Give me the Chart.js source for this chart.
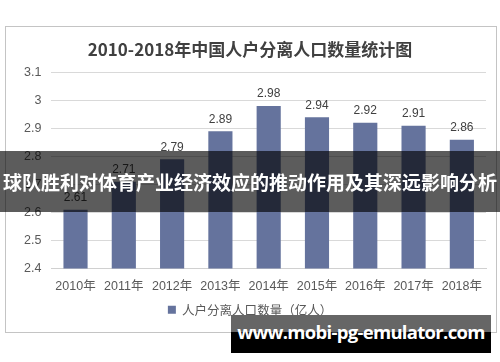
<!DOCTYPE html>
<html>
<head>
    <title>2010-2018年中国人户分离人口数量统计图</title>
    <script src="https://cdn.jsdelivr.net/npm/chart.js"></script>
    <style>
        body { margin: 0; background: #fff; }
        #wrap { position: relative; width: 500px; height: 362px; overflow: hidden; }
        #frame { position: absolute; left: 5px; top: 26px; width: 490px; height: 305px; border: 1px solid #c4c4c4; }
        #chart { position: absolute; left: 0; top: 0; }
        #band {
            position: absolute; left: 0; top: 151px; width: 500px; height: 61px;
            background: rgba(0, 0, 0, 0.64); color: #fff;
            font: bold 19px "Noto Sans CJK SC", sans-serif;
            line-height: 61px; text-align: center; white-space: nowrap;
        }
        #mark { position: absolute; left: 231px; top: 315px; width: 260px; height: 38px; background: #000; }
        #mark .top { position: absolute; left: 0; top: 0; width: 260px; height: 17px; background: #666; }
        #mark .txt {
            position: absolute; left: 0; top: 4px; width: 260px; height: 34px; line-height: 34px;
            text-align: center; color: #fff; font: bold 18.5px "Open Sans", "DejaVu Sans", sans-serif;
            letter-spacing: -0.7px; white-space: nowrap;
        }
    </style>
</head>
<body>
<div id="wrap">
    <div id="frame"></div>
    <canvas id="chart" width="500" height="362"></canvas>
    <div id="band">球队胜利对体育产业经济效应的推动作用及其深远影响分析</div>
    <div id="mark"><div class="top"></div><div class="txt">www.mobi-pg-emulator.com</div></div>
</div>
<script>
    // chart data
    const years = ["2010年", "2011年", "2012年", "2013年", "2014年", "2015年", "2016年", "2017年", "2018年"];
    const population = [2.61, 2.71, 2.79, 2.89, 2.98, 2.94, 2.92, 2.91, 2.86];
    const seriesName = "人户分离人口数量（亿人）";
    const chartTitle = "2010-2018年中国人户分离人口数量统计图";

    const barColor = "#65739d";
    const fontFamily = "'Liberation Sans', 'Noto Sans CJK SC', sans-serif";

    // value labels above each bar
    const valueLabels = {
        id: "valueLabels",
        afterDatasetsDraw(chart) {
            const ctx = chart.ctx;
            const meta = chart.getDatasetMeta(0);
            ctx.save();
            ctx.fillStyle = "#404040";
            ctx.font = "12px " + fontFamily;
            ctx.textAlign = "center";
            ctx.textBaseline = "bottom";
            meta.data.forEach((bar, i) => {
                ctx.fillText(population[i].toFixed(2), bar.x, bar.y - 6);
            });
            ctx.restore();
        }
    };

    new Chart(document.getElementById("chart"), {
        type: "bar",
        data: {
            labels: years,
            datasets: [{
                label: seriesName,
                data: population,
                backgroundColor: barColor,
                barPercentage: 0.5,
                categoryPercentage: 1
            }]
        },
        options: {
            responsive: false,
            animation: false,
            layout: { padding: { left: 14, right: 14, top: 39, bottom: 36 } },
            plugins: {
                title: {
                    display: true,
                    text: chartTitle,
                    color: "#404040",
                    font: { size: 17, weight: "bold", family: "'Noto Sans CJK SC', sans-serif" },
                    padding: { top: 0, bottom: 13 }
                },
                legend: {
                    position: "bottom",
                    labels: {
                        boxWidth: 8, boxHeight: 8, color: "#595959",
                        font: { size: 12.5, family: "'Noto Sans CJK SC', sans-serif" },
                        padding: 6
                    }
                },
                tooltip: { enabled: false }
            },
            scales: {
                x: {
                    grid: { display: false },
                    border: { color: "#d0d0d0" },
                    ticks: { color: "#595959", font: { size: 12.5, family: fontFamily }, maxRotation: 0, padding: 3 }
                },
                y: {
                    min: 2.4, max: 3.1,
                    border: { display: false },
                    grid: { color: "#d9d9d9", drawTicks: false },
                    ticks: {
                        stepSize: 0.1, color: "#595959", font: { size: 12.5, family: fontFamily }, padding: 10,
                        callback: v => String(+v.toFixed(1))
                    }
                }
            }
        },
        plugins: [valueLabels]
    });
</script>
</body>
</html>
